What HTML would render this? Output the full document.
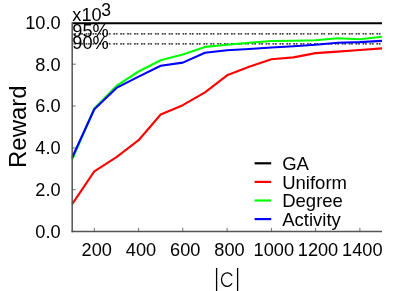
<!DOCTYPE html>
<html><head><meta charset="utf-8"><style>
html,body{margin:0;padding:0;background:#fff;}
svg{display:block;will-change:transform;font-family:"Liberation Sans",sans-serif;}
</style></head><body>
<svg width="415" height="291" viewBox="0 0 415 291">
<rect width="415" height="291" fill="#fff"/>
<g stroke="#000" stroke-width="1.4" stroke-dasharray="1.7,0.8,1.7,2.723" stroke-dashoffset="0.44" fill="none">
<line x1="72.2" y1="33.9" x2="382.0" y2="33.9"/>
<line x1="72.2" y1="43.9" x2="382.0" y2="43.9"/>
</g>
<g fill="none" stroke-width="2.1" stroke-linejoin="round" stroke-linecap="butt">
<polyline stroke="#ff0000" points="72.2,204.1 94.3,171.4 116.5,157.2 138.6,140.2 160.7,114.5 182.8,105.2 205.0,92.3 227.1,75.3 249.2,66.7 271.4,59.2 293.5,57.4 315.6,53.1 337.7,51.6 359.9,50.0 382.0,48.4"/>
<polyline stroke="#00ff00" points="72.2,159.3 94.3,108.5 116.5,85.9 138.6,71.5 160.7,60.2 182.8,54.6 205.0,46.9 227.1,44.7 249.2,42.8 271.4,41.0 293.5,40.8 315.6,40.2 337.7,38.2 359.9,39.2 382.0,36.7"/>
<polyline stroke="#0000ff" points="72.2,157.5 94.3,109.3 116.5,87.9 138.6,76.6 160.7,65.8 182.8,62.6 205.0,52.7 227.1,50.3 249.2,49.0 271.4,47.5 293.5,46.3 315.6,44.7 337.7,42.8 359.9,42.1 382.0,40.9"/>
<line stroke="#000" x1="72.2" y1="23.2" x2="382.0" y2="23.2"/>
</g>
<g stroke="#555" stroke-width="1.5" fill="none">
<line x1="72.2" y1="22.2" x2="72.2" y2="232.2"/>
<line x1="71.5" y1="231.5" x2="382.0" y2="231.5"/>
</g>
<g stroke="#4a4a4a" stroke-width="0.8"><line x1="94.3" y1="231.5" x2="94.3" y2="227.9"/><line x1="138.6" y1="231.5" x2="138.6" y2="227.9"/><line x1="182.8" y1="231.5" x2="182.8" y2="227.9"/><line x1="227.1" y1="231.5" x2="227.1" y2="227.9"/><line x1="271.4" y1="231.5" x2="271.4" y2="227.9"/><line x1="315.6" y1="231.5" x2="315.6" y2="227.9"/><line x1="359.9" y1="231.5" x2="359.9" y2="227.9"/><line x1="72.2" y1="231.5" x2="75.8" y2="231.5"/><line x1="72.2" y1="189.7" x2="75.8" y2="189.7"/><line x1="72.2" y1="147.9" x2="75.8" y2="147.9"/><line x1="72.2" y1="106.0" x2="75.8" y2="106.0"/><line x1="72.2" y1="64.2" x2="75.8" y2="64.2"/><line x1="72.2" y1="22.4" x2="75.8" y2="22.4"/></g>
<g font-size="18.2" fill="#000"><text x="96.7" y="256.2" text-anchor="middle">200</text><text x="141.0" y="256.2" text-anchor="middle">400</text><text x="185.2" y="256.2" text-anchor="middle">600</text><text x="229.5" y="256.2" text-anchor="middle">800</text><text x="273.8" y="256.2" text-anchor="middle">1000</text><text x="318.0" y="256.2" text-anchor="middle">1200</text><text x="362.3" y="256.2" text-anchor="middle">1400</text><text x="60.6" y="237.8" text-anchor="end">0.0</text><text x="60.6" y="196.0" text-anchor="end">2.0</text><text x="60.6" y="154.2" text-anchor="end">4.0</text><text x="60.6" y="112.3" text-anchor="end">6.0</text><text x="60.6" y="70.5" text-anchor="end">8.0</text><text x="60.6" y="28.7" text-anchor="end">10.0</text></g>
<g font-size="18.2" fill="#000">
<text x="72.3" y="21">x10</text><text x="101.2" y="15.5" font-size="17.6">3</text>
<text x="72.3" y="37.1">95%</text>
<text x="72.3" y="49.4">90%</text>
</g>
<text transform="translate(26.3,126.7) rotate(-90)" text-anchor="middle" font-size="24" fill="#000">Reward</text>
<g font-size="18.5" fill="#000">
<text x="282.2" y="169.7">GA</text>
<text x="282.2" y="188.6">Uniform</text>
<text x="282.2" y="207.3">Degree</text>
<text x="282.2" y="226.0">Activity</text>
</g>
<g stroke-width="2.2">
<line stroke="#000" x1="254.6" y1="163.3" x2="271.2" y2="163.3"/>
<line stroke="#ff0000" x1="254.6" y1="181.9" x2="271.2" y2="181.9"/>
<line stroke="#00ff00" x1="254.6" y1="200.5" x2="271.2" y2="200.5"/>
<line stroke="#0000ff" x1="254.6" y1="219.1" x2="271.2" y2="219.1"/>
</g>
<g stroke="#000" stroke-width="1.3" fill="none">
<line x1="216.6" y1="268" x2="216.6" y2="292"/>
<line x1="237.6" y1="268" x2="237.6" y2="292"/>
<path d="M 232.1 275.9 A 5.8 6.75 0 1 0 232.1 283.3"/>
</g>
</svg>
</body></html>
